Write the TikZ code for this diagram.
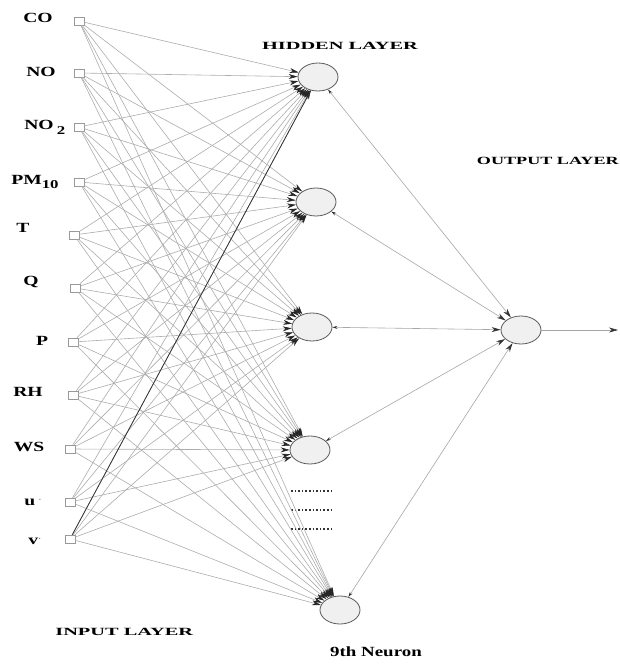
\documentclass[tikz,border=0pt]{standalone}
\usepackage{fontspec}
\setmainfont{Liberation Serif}
\usetikzlibrary{arrows.meta,shapes.geometric}
\begin{document}
\begin{tikzpicture}[x=1pt,y=-1pt,
  inbox/.style={draw=gray!80,fill=white,minimum width=10pt,minimum height=8pt,inner sep=0pt,line width=0.6pt},
  neuron/.style={ellipse,draw=gray!70!black,fill=gray!12,minimum width=40pt,minimum height=28pt,inner sep=0pt,line width=0.8pt},
  inlabel/.style={font=\bfseries\fontsize{14}{14}\selectfont,xscale=1.4,inner sep=0pt},
  layerlabel/.style={font=\bfseries\fontsize{11}{11}\selectfont,xscale=1.85,inner sep=0pt},
  neulabel/.style={font=\bfseries\fontsize{14}{14}\selectfont,xscale=1.35,inner sep=0pt},
  conn/.style={draw=gray!65,line width=0.6pt,-{Stealth[length=9pt,width=5pt,color=gray!30!black]}},
  hconn/.style={draw=gray!70,line width=0.6pt,{Stealth[length=5pt,width=3pt,color=gray!40!black]}-{Stealth[length=9pt,width=5pt,color=gray!40!black]}},
  outconn/.style={draw=gray!70,line width=0.6pt,-{Stealth[length=9pt,width=5pt,color=gray!40!black]}},
  dotrow/.style={dotted,line width=1.6pt,draw=gray!40!black}
]
\useasboundingbox (0,0) rectangle (620,664);
% input boxes
\node[inbox] (i1) at (79,21) {};
\node[inbox] (i2) at (79,73) {};
\node[inbox] (i3) at (79,127) {};
\node[inbox] (i4) at (79,182) {};
\node[inbox] (i5) at (74,235) {};
\node[inbox] (i6) at (75,288) {};
\node[inbox] (i7) at (73,342) {};
\node[inbox] (i8) at (73,395) {};
\node[inbox] (i9) at (70,449) {};
\node[inbox] (i10) at (70,502) {};
\node[inbox] (i11) at (70,539) {};
% input labels
\node[inlabel] (l1) at (38,18) {CO};
\node[inlabel] (l2) at (41,72) {NO};
\node[inlabel,anchor=west] (l3) at (24,127) {NO\,\raisebox{-0.75ex}{\fontsize{12}{12}\selectfont 2}};
\node[inlabel,anchor=west] (l4) at (11,182) {PM\raisebox{-0.6ex}{\fontsize{12}{12}\selectfont 10}};
\node[inlabel] (l5) at (23,228) {T};
\node[inlabel] (l6) at (31,282) {Q};
\node[inlabel] (l7) at (42,341) {P};
\node[inlabel] (l8) at (28,392) {RH};
\node[inlabel] (l9) at (29,447) {WS};
\node[inlabel] (l10) at (33,502) {u\,\raisebox{0.6ex}{\fontsize{7}{7}\selectfont$\cdot$}};
\node[inlabel] (l11) at (35,541) {v\raisebox{0.6ex}{\fontsize{7}{7}\selectfont$\cdot$}};
% hidden neurons
\node[neuron] (h1) at (318,77) {};
\node[neuron] (h2) at (316,202) {};
\node[neuron] (h3) at (312,327) {};
\node[neuron] (h4) at (310,450) {};
\node[neuron] (h5) at (340,610) {};
% output neuron
\node[neuron] (o) at (521,330) {};
\coordinate (out) at (618,330);
% layer labels
\node[layerlabel] (hl) at (340,46) {HIDDEN LAYER};
\node[layerlabel,xscale=0.89,anchor=east] (ol) at (619,161) {OUTPUT LAYER};
\node[layerlabel,anchor=west] (il) at (55,632) {INPUT LAYER};
\node[neulabel] (nl) at (376,652) {9th Neuron};
% dots
\draw[dotrow] (291,491) -- (333,491);
\draw[dotrow] (291,510) -- (333,510);
\draw[dotrow] (291,529) -- (333,529);
% input to hidden connections
\foreach \i in {1,...,11}{
  \foreach \h in {1,...,5}{
    \draw[conn] (i\i) -- (h\h);
  }
}
\draw[draw=black!80,line width=0.8pt] (i11) -- (h1);
% hidden to output
\foreach \h in {1,...,5}{
  \draw[hconn] (h\h) -- (o);
}
\draw[outconn] (o) -- (out);
\end{tikzpicture}
\end{document}
